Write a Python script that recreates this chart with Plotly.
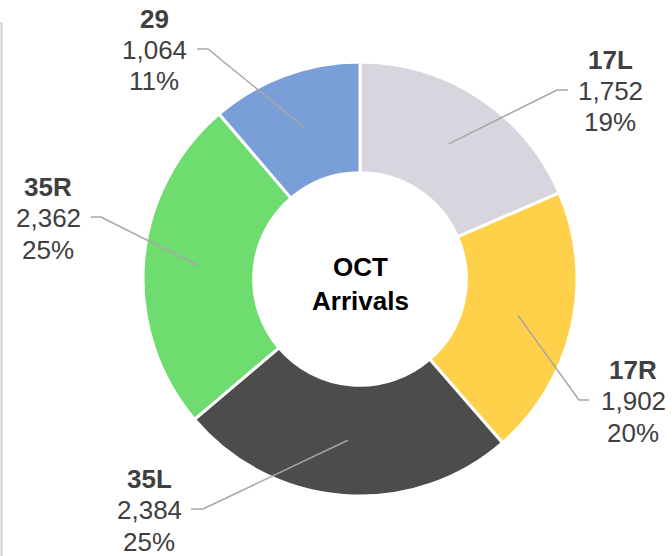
import numpy as np
import plotly.graph_objects as go

### DATA ###
runways = ["17L", "17R", "35L", "35R", "29"]
arrivals = [1752, 1902, 2384, 2362, 1064]
colors = ["#D9D5DF", "#FFD14B", "#4C4C4C", "#6FDC6F", "#7A9FD8"]
center_title = "OCT<br>Arrivals"

### LAYOUT ###
W, H = 672, 556
CX, CY, R_OUT = 360, 279, 217   # pie centre / radius in px
HOLE = 0.49
FONT = "Liberation Sans, Arial, sans-serif"
TEXT_COLOR = "#404040"
LEADER_COLOR = "#A6A6A6"
LABEL_SIZE = 26
LINE_GAP = 31.5

# label block centre (middle line) and stub start/end for each runway
label_pos = {
    "17L": dict(x=610, y=91, stub=(568, 557)),
    "17R": dict(x=633, y=401, stub=(589, 579)),
    "35L": dict(x=149, y=510, stub=(191, 203)),
    "35R": dict(x=48, y=218, stub=(91, 101)),
    "29": dict(x=154, y=50, stub=(197, 208)),
}


def px(x):
    return x / W


def py(y):
    return 1 - y / H


values = np.array(arrivals, dtype=float)
fracs = values / values.sum()
mids = np.cumsum(fracs) - fracs / 2
r_mid = R_OUT * (1 + HOLE) / 2

fig = go.Figure()
fig.add_trace(
    go.Pie(
        labels=runways,
        values=arrivals,
        hole=HOLE,
        sort=False,
        direction="clockwise",
        rotation=0,
        textinfo="none",
        hoverinfo="label+value+percent",
        marker=dict(colors=colors, line=dict(color="white", width=3)),
        domain=dict(x=[px(CX - R_OUT), px(CX + R_OUT)],
                    y=[py(CY + R_OUT), py(CY - R_OUT)]),
        showlegend=False,
    )
)

shapes = []
annotations = []
for name, val, frac, mid in zip(runways, arrivals, fracs, mids):
    pos = label_pos[name]
    ang = 2 * np.pi * mid
    ex = CX + r_mid * np.sin(ang)
    ey = CY - r_mid * np.cos(ang)
    s0, s1 = pos["stub"]
    sy = pos["y"] - 1
    shapes.append(dict(
        type="path", xref="paper", yref="paper",
        path=f"M {px(s0)},{py(sy)} L {px(s1)},{py(sy)} L {px(ex)},{py(ey)}",
        line=dict(color=LEADER_COLOR, width=1.5),
    ))
    lines = [f"<b>{name}</b>", f"{val:,}", f"{round(frac * 100)}%"]
    for i, txt in enumerate(lines):
        annotations.append(dict(
            x=px(pos["x"]), y=py(pos["y"] + (i - 1) * LINE_GAP),
            xref="paper", yref="paper",
            text=txt, showarrow=False, xanchor="center", yanchor="middle",
            font=dict(family=FONT, size=LABEL_SIZE, color=TEXT_COLOR),
        ))

# centre text
annotations.append(dict(
    x=px(CX), y=py(CY + 5), xref="paper", yref="paper",
    text=f"<b>{center_title}</b>", showarrow=False,
    xanchor="center", yanchor="middle",
    font=dict(family=FONT, size=26, color="black"),
))

# thin frame line at left edge
shapes.append(dict(
    type="line", xref="paper", yref="paper",
    x0=px(1.5), x1=px(1.5), y0=py(22), y1=0,
    line=dict(color="#D0D0D0", width=2),
))

fig.update_layout(
    width=W, height=H,
    margin=dict(l=0, r=0, t=0, b=0),
    paper_bgcolor="white",
    plot_bgcolor="white",
    shapes=shapes,
    annotations=annotations,
    font=dict(family=FONT),
)

# drop the default page margin so the figure sits at the window corner
fig.write_html("out.html", config={"displayModeBar": False},
               post_script="document.body.style.margin='0';")
